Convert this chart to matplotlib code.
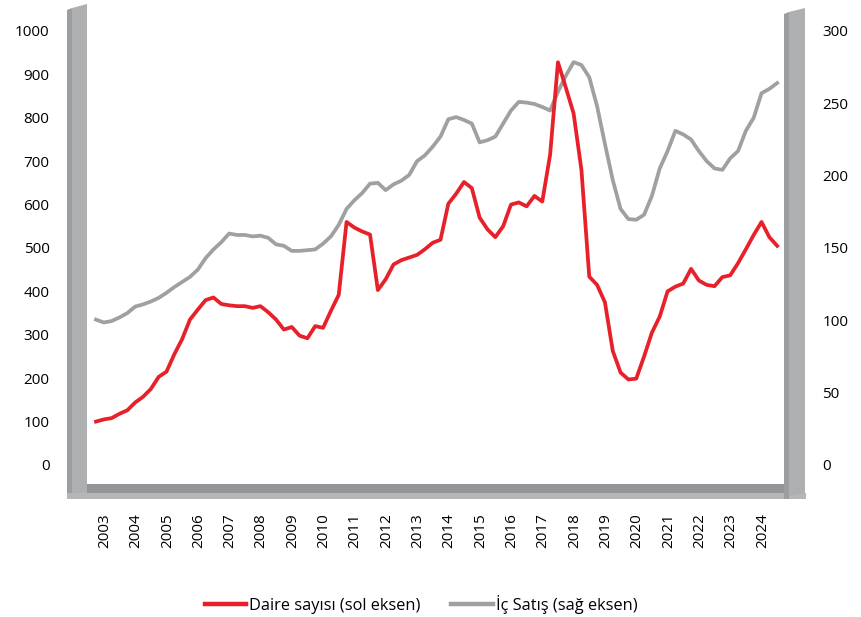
import numpy as np
import matplotlib
matplotlib.use("Agg")
import matplotlib.pyplot as plt
from matplotlib.patches import Polygon

plt.rcParams["font.family"] = ["Open Sans", "DejaVu Sans"]

# quarterly data, 2003Q1 - 2024Q4
years = list(range(2003, 2025))

daire = [100, 105, 108, 118, 126, 144, 157, 175, 203, 215, 255, 290,
         335, 358, 380, 386, 371, 368, 366, 366, 362, 366, 352, 335,
         312, 318, 298, 292, 320, 316, 355, 392, 560, 547, 538, 531,
         403, 428, 462, 472, 478, 484, 497, 512, 519, 602, 625, 652,
         638, 570, 543, 525, 550, 600, 605, 596, 620, 607, 715, 928,
         870, 810, 680, 434, 415, 375, 263, 213, 197, 199, 250, 305,
         342, 400, 411, 418, 452, 425, 415, 412, 433, 437, 465, 497,
         530, 560, 525, 505]

ic_satis = [100.5, 98.5, 99.5, 102, 105, 109.5, 111, 113, 115.5, 119, 123, 126.5,
            130, 135, 143, 149, 154, 160, 159, 159, 158, 158.5, 157, 152.5,
            151.5, 148, 148, 148.5, 149, 153, 158, 166, 177, 183, 188, 194.5,
            195, 190, 194, 196.5, 200.5, 210, 214, 220, 227, 239, 240.5, 238.5,
            236, 223, 224.5, 227, 236, 245, 251, 250.5, 249.5, 247.5, 245, 258,
            269, 278.5, 276.5, 268, 248, 222, 197, 177, 170, 169.5, 173, 186,
            205, 217, 231, 228.5, 225, 217, 210, 205, 204, 212, 217, 231,
            240, 257, 260, 264]

W, H = 861, 617
fig = plt.figure(figsize=(W / 100, H / 100), dpi=100)


def fx(x):
    return x / W


def fy(y):
    return 1 - y / H


# axes box in pixels: x 87..785, y 5..484
ax = fig.add_axes([fx(87), fy(484), fx(785) - fx(87), fy(5) - fy(484)])
ax.set_facecolor("none")
ax2 = ax.twinx()

x = np.arange(len(daire))
ax.plot(x, daire, color="#e8202a", lw=2.7, solid_joinstyle="round", zorder=3)
ax2.plot(x, ic_satis, color="#a0a0a0", lw=2.7, solid_joinstyle="round", zorder=2)
ax.set_zorder(ax2.get_zorder() + 1)

ax.set_xlim(-1.15, 88.0)
ax.set_ylim(-43.8, 1059.9)
ax2.set_ylim(-13.14, 317.97)

ax.set_yticks(range(0, 1001, 100))
ax2.set_yticks(range(0, 301, 50))
ax.set_xticks([4 * i + 1.1 for i in range(len(years))])
ax.set_xticklabels([str(y) for y in years], rotation=90)

for a in (ax, ax2):
    for s in a.spines.values():
        s.set_visible(False)
ax.tick_params(axis="y", length=0, pad=27, labelsize=11)
ax2.tick_params(axis="y", length=0, pad=27, labelsize=11)
ax.tick_params(axis="x", length=0, pad=21, labelsize=11)

# 3D-looking walls and floor
dark, light = "#9c9d9f", "#aeafb1"
walls = [
    ([(67, 10), (72, 8), (72, 496), (67, 496)], dark),
    ([(72, 8), (87, 4), (87, 493), (72, 496)], light),
    ([(87, 484), (784, 484), (784, 493), (87, 493)], "#949596"),
    ([(67, 493), (806, 493), (806, 499), (67, 499)], "#b5b6b7"),
    ([(784, 14), (789, 12), (789, 499), (784, 499)], dark),
    ([(789, 12), (805, 8), (805, 493), (789, 496)], light),
]
for pts, c in walls:
    fig.patches.append(Polygon([(fx(a), fy(b)) for a, b in pts], closed=True,
                               transform=fig.transFigure, facecolor=c,
                               edgecolor="none", figure=fig))

h1, = ax.plot([], [], color="#e8202a", lw=3.2)
h2, = ax.plot([], [], color="#a0a0a0", lw=3.2)
fig.legend([h1, h2], ["Daire sayısı (sol eksen)", "İç Satış (sağ eksen)"],
           loc="center", bbox_to_anchor=(fx(421), fy(604)), ncol=2,
           frameon=False, fontsize=11.8, handlelength=2.55, handletextpad=0.15,
           columnspacing=1.9)

fig.savefig("out.png", dpi=100)
